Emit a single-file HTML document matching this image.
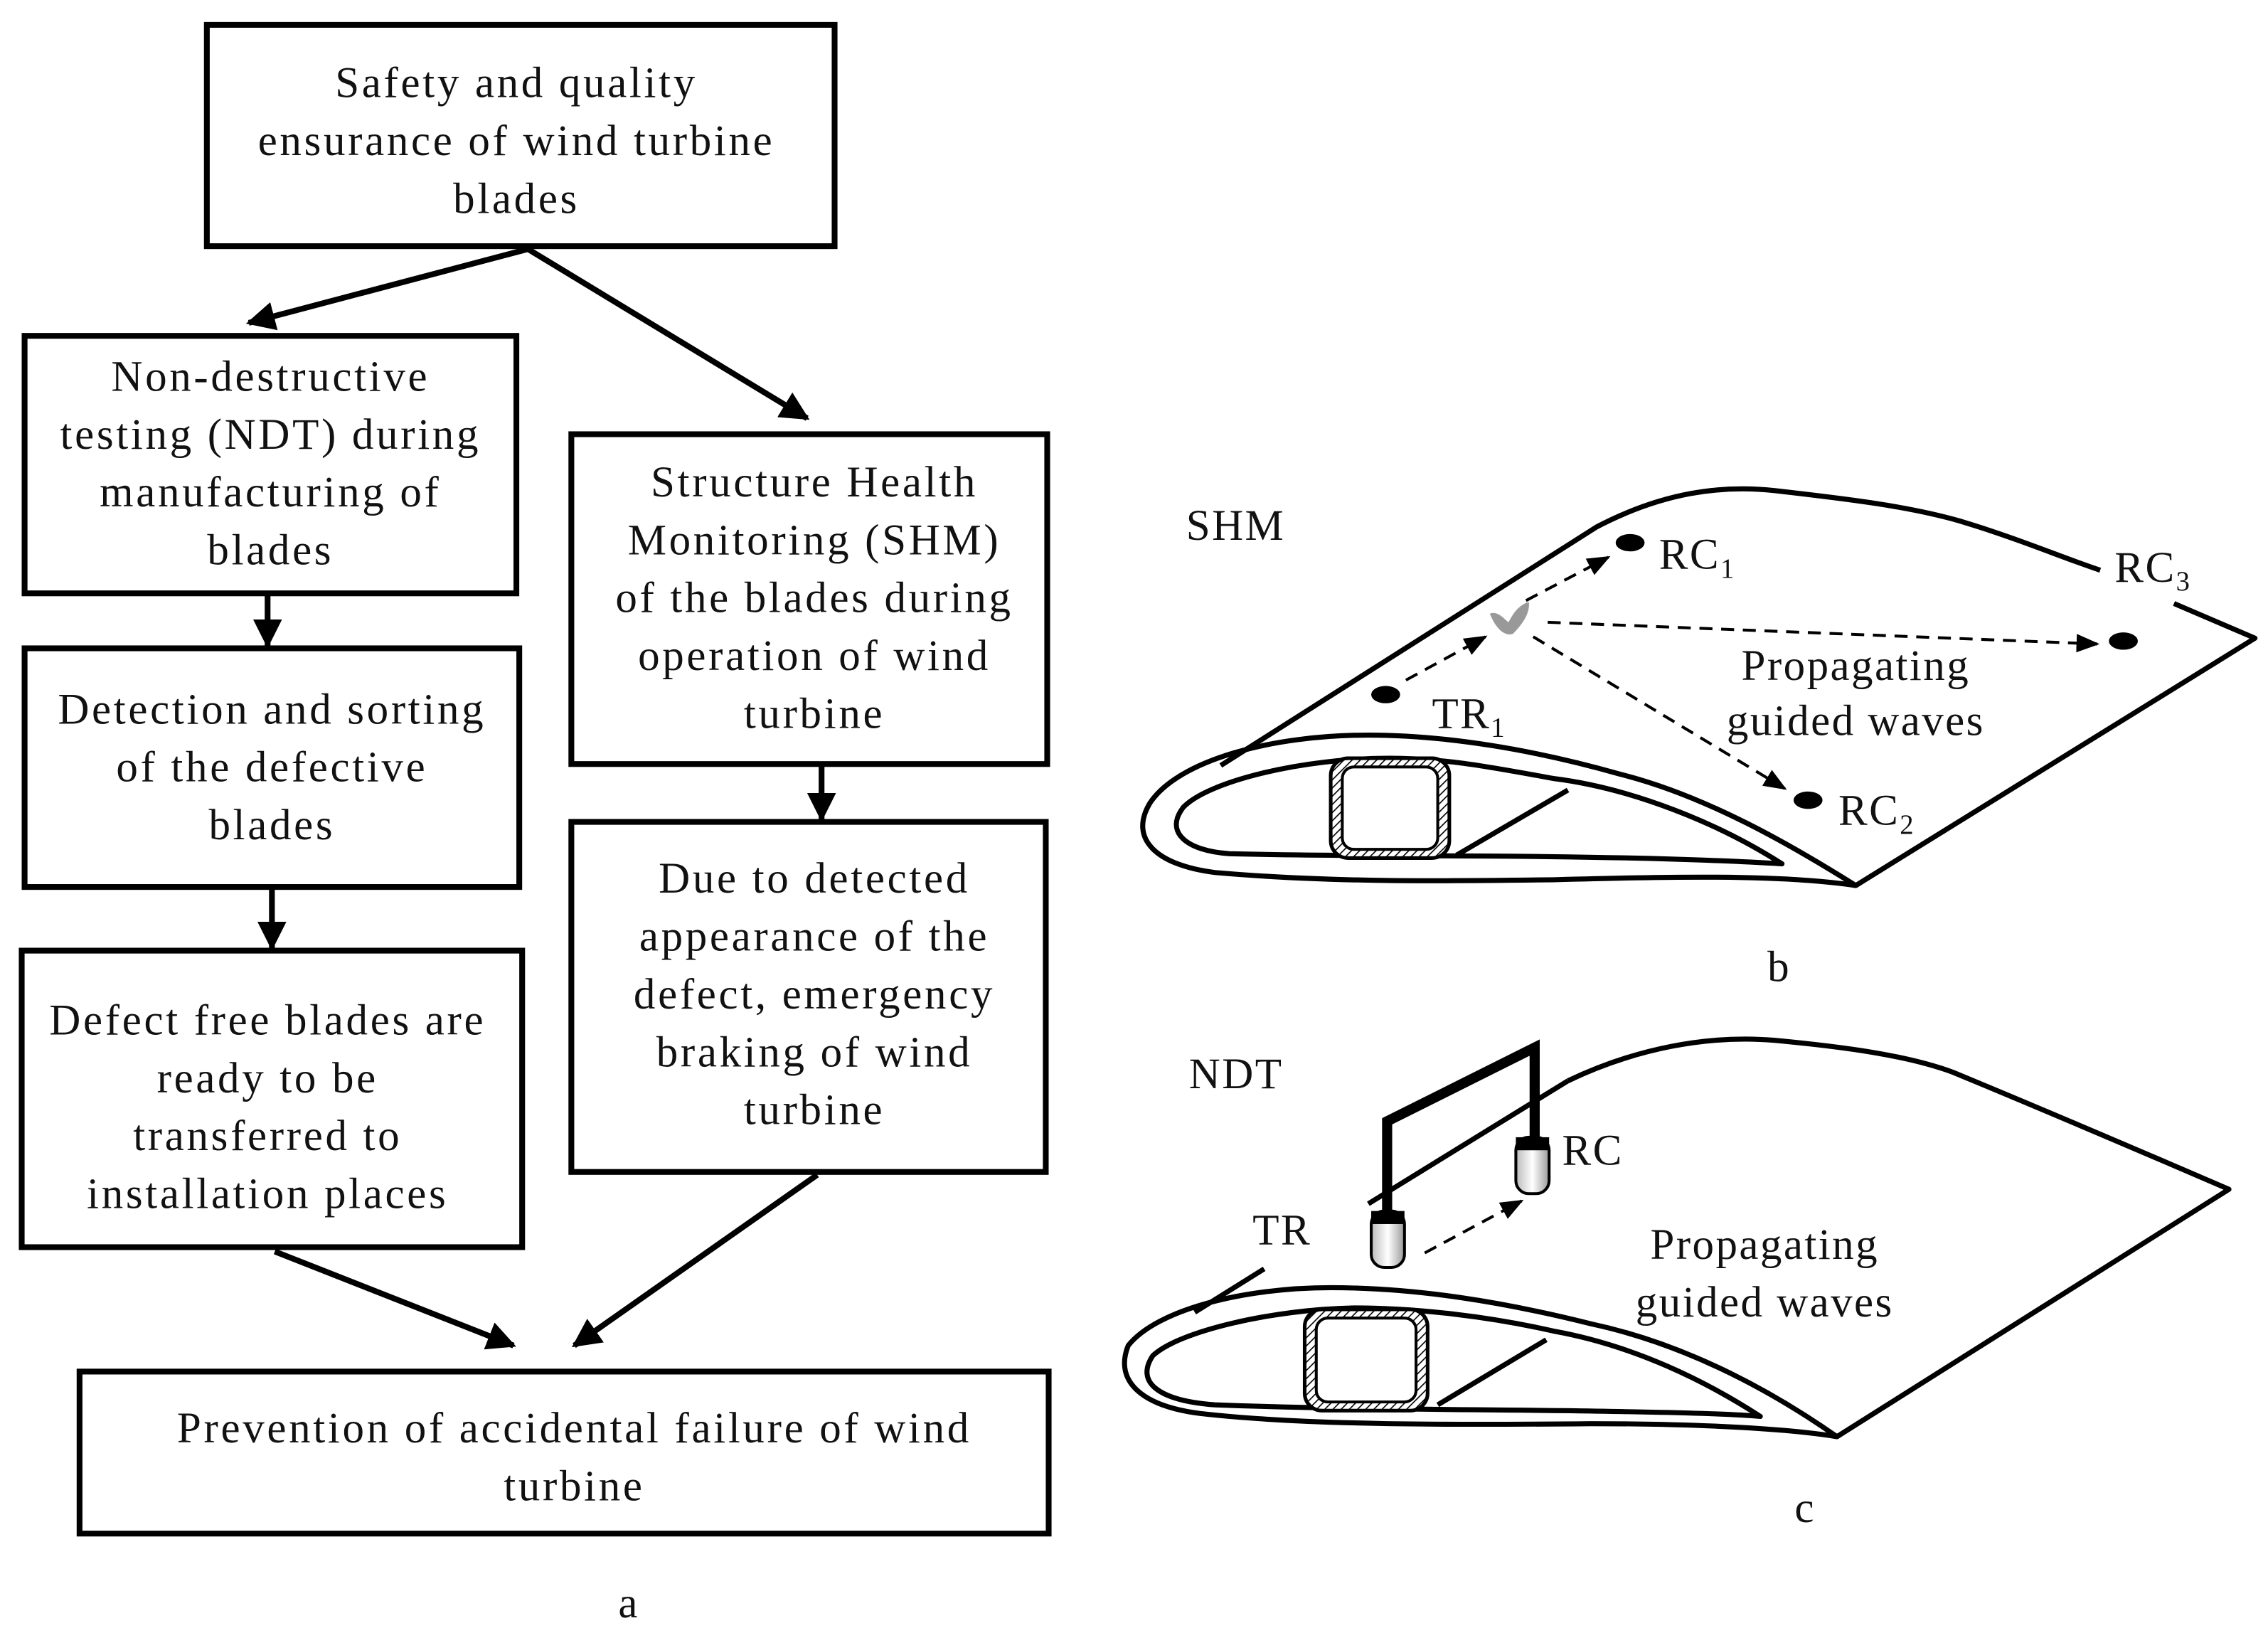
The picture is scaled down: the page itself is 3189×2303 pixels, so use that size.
<!DOCTYPE html>
<html><head><meta charset="utf-8"><style>
html,body{margin:0;padding:0;background:#fff}
svg{display:block}
text{font-family:"Liberation Serif",serif;fill:#111}
</style></head><body>
<svg width="3189" height="2303" viewBox="0 0 1568 1132" xmlns="http://www.w3.org/2000/svg">
<defs>
<marker id="ah" viewBox="0 0 10 10" refX="9" refY="5" markerWidth="5" markerHeight="5" markerUnits="strokeWidth" orient="auto"><path d="M0,0 L10,5 L0,10 z" fill="#000"/></marker>
<marker id="dh" viewBox="0 0 10 10" refX="9" refY="5" markerWidth="8" markerHeight="8" markerUnits="strokeWidth" orient="auto"><path d="M0,1 L10,5 L0,9 z" fill="#000"/></marker>
<pattern id="hat" width="4" height="4" patternUnits="userSpaceOnUse" patternTransform="rotate(45)"><rect width="4" height="4" fill="#fff"/><line x1="0" y1="0" x2="0" y2="4" stroke="#000" stroke-width="1.6"/></pattern>
<linearGradient id="cyl" x1="0" x2="1" y1="0" y2="0"><stop offset="0" stop-color="#bbb"/><stop offset="0.5" stop-color="#fff"/><stop offset="1" stop-color="#999"/></linearGradient>
</defs>

<g fill="none" stroke="#000" stroke-width="4">
<rect x="143" y="17" width="434" height="153"/>
<rect x="17" y="232" width="340" height="178"/>
<rect x="17" y="448" width="342" height="165"/>
<rect x="15" y="657" width="346" height="205"/>
<rect x="395" y="300" width="329" height="228"/>
<rect x="395" y="568" width="328" height="242"/>
<rect x="55" y="948" width="670" height="112"/>
<line x1="365" y1="172" x2="172" y2="223" marker-end="url(#ah)"/>
<line x1="365" y1="172" x2="558" y2="289" marker-end="url(#ah)"/>
<line x1="185" y1="410" x2="185" y2="446" marker-end="url(#ah)"/>
<line x1="188" y1="613" x2="188" y2="655" marker-end="url(#ah)"/>
<line x1="568" y1="528" x2="568" y2="566" marker-end="url(#ah)"/>
<line x1="190" y1="865" x2="355" y2="930" marker-end="url(#ah)"/>
<line x1="565" y1="812" x2="397" y2="930" marker-end="url(#ah)"/>
</g>

<g font-size="30" text-anchor="middle" letter-spacing="1.8">
<text x="357" y="67">Safety and quality</text>
<text x="357" y="107">ensurance of wind turbine</text>
<text x="357" y="147">blades</text>
<text x="187" y="270">Non-destructive</text>
<text x="187" y="310">testing (NDT) during</text>
<text x="187" y="350">manufacturing of</text>
<text x="187" y="390">blades</text>
<text x="188" y="500">Detection and sorting</text>
<text x="188" y="540">of the defective</text>
<text x="188" y="580">blades</text>
<text x="185" y="715">Defect free blades are</text>
<text x="185" y="755">ready to be</text>
<text x="185" y="795">transferred to</text>
<text x="185" y="835">installation places</text>
<text x="563" y="343">Structure Health</text>
<text x="563" y="383">Monitoring (SHM)</text>
<text x="563" y="423">of the blades during</text>
<text x="563" y="463">operation of wind</text>
<text x="563" y="503">turbine</text>
<text x="563" y="617">Due to detected</text>
<text x="563" y="657">appearance of the</text>
<text x="563" y="697">defect, emergency</text>
<text x="563" y="737">braking of wind</text>
<text x="563" y="777">turbine</text>
<text x="397" y="997">Prevention of accidental failure of wind</text>
<text x="397" y="1037">turbine</text>
<text x="435" y="1118">a</text>
</g>

<!-- Blade b -->
<g fill="none" stroke="#000" stroke-width="3.5" stroke-linejoin="round">
<path d="M844,529 L1104,364 C1150,340 1190,335 1227,339 C1280,345 1320,350 1355,360 C1395,372 1425,385 1452,394"/>
<path d="M1503,417 L1559,441 L1283,612"/>
<path d="M1283,612 C1240,585 1180,550 1120,535 C1060,518 1000,508 946,508 C880,508 815,525 795,555 C780,580 800,598 840,603 C920,610 1000,609 1074,608 C1150,606 1230,604 1283,612 Z"/>
<path d="M1232,597 C1190,570 1130,545 1074,538 C1030,530 1000,524 960,524 C900,524 835,540 818,558 C805,575 820,588 850,590 C930,592 1000,591 1070,592 C1150,593 1200,595 1232,597 Z"/>
<line x1="1084" y1="546" x2="1007" y2="591"/>
</g>
<rect x="920" y="524" width="82" height="69" rx="12" fill="url(#hat)" stroke="#000" stroke-width="2.5"/>
<rect x="928" y="530" width="66" height="57" rx="8" fill="#fff" stroke="#000" stroke-width="2"/>
<g fill="#000">
<ellipse cx="1127" cy="375" rx="10" ry="6"/>
<ellipse cx="958" cy="480" rx="10" ry="6"/>
<ellipse cx="1468" cy="443" rx="10" ry="6"/>
<ellipse cx="1250" cy="553" rx="10" ry="6"/>
</g>
<path d="M1030,424 C1036,422 1040,428 1043,430 C1046,424 1050,418 1057,416 C1058,424 1052,432 1046,438 C1040,440 1034,434 1030,424 Z" fill="#999"/>
<g stroke="#000" stroke-width="2" stroke-dasharray="9,6" fill="none">
<line x1="972" y1="470" x2="1027" y2="440" marker-end="url(#dh)"/>
<line x1="1055" y1="415" x2="1112" y2="385" marker-end="url(#dh)"/>
<line x1="1070" y1="430" x2="1450" y2="445" marker-end="url(#dh)"/>
<line x1="1060" y1="440" x2="1234" y2="545" marker-end="url(#dh)"/>
</g>
<g font-size="30" letter-spacing="1.2">
<text x="820" y="373">SHM</text>
<text x="1147" y="393">RC<tspan font-size="19" dy="6">1</tspan></text>
<text x="1462" y="402">RC<tspan font-size="19" dy="6">3</tspan></text>
<text x="990" y="503">TR<tspan font-size="19" dy="6">1</tspan></text>
<text x="1271" y="570">RC<tspan font-size="19" dy="6">2</tspan></text>
<text x="1283" y="470" text-anchor="middle">Propagating</text>
<text x="1283" y="508" text-anchor="middle">guided waves</text>
<text x="1230" y="678" text-anchor="middle">b</text>
</g>

<!-- Blade c -->
<g fill="none" stroke="#000" stroke-width="3.5" stroke-linejoin="round">
<line x1="874" y1="877" x2="826" y2="907"/>
<line x1="946" y1="832" x2="1084" y2="747"/>
<path d="M1084,747 C1130,725 1180,715 1227,719 C1280,724 1320,730 1350,741 C1420,770 1490,800 1541,822 L1270,993"/>
<path d="M1270,993 C1230,965 1170,930 1100,915 C1040,900 980,890 920,890 C860,890 800,905 780,930 C770,955 790,972 830,977 C900,985 1000,985 1100,984 C1180,984 1240,988 1270,993 Z"/>
<path d="M1217,979 C1180,955 1130,930 1074,920 C1030,910 980,904 936,904 C880,905 815,920 797,937 C785,955 800,968 840,971 C920,974 1000,974 1080,975 C1150,976 1195,977 1217,979 Z"/>
<line x1="1069" y1="926" x2="994" y2="971"/>
</g>
<rect x="902" y="905" width="85" height="70" rx="12" fill="url(#hat)" stroke="#000" stroke-width="2.5"/>
<rect x="910" y="911" width="69" height="58" rx="8" fill="#fff" stroke="#000" stroke-width="2"/>
<path d="M959,837 L959,775 L1061,724 L1061,788" fill="none" stroke="#000" stroke-width="7" stroke-linejoin="miter"/>
<rect x="948" y="837" width="23" height="39" rx="9" fill="url(#cyl)" stroke="#000" stroke-width="2"/>
<rect x="948" y="837" width="23" height="9" fill="#000"/>
<rect x="1048" y="786" width="23" height="39" rx="9" fill="url(#cyl)" stroke="#000" stroke-width="2"/>
<rect x="1048" y="786" width="23" height="9" fill="#000"/>
<line x1="985" y1="866" x2="1052" y2="830" stroke="#000" stroke-width="2" stroke-dasharray="9,6" marker-end="url(#dh)"/>
<g font-size="30" letter-spacing="1.2">
<text x="822" y="752">NDT</text>
<text x="866" y="860">TR</text>
<text x="1080" y="805">RC</text>
<text x="1220" y="870" text-anchor="middle">Propagating</text>
<text x="1220" y="910" text-anchor="middle">guided waves</text>
<text x="1248" y="1052" text-anchor="middle">c</text>
</g>
</svg>
</body></html>
